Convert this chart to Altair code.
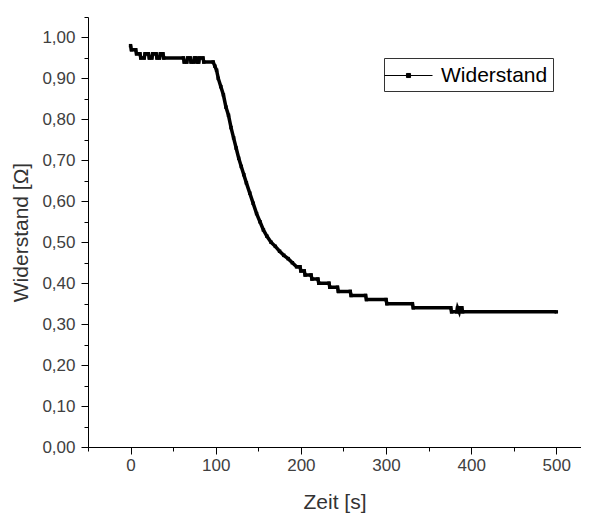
import altair as alt
import pandas as pd

# ---- data ----
zeit_s = [0, 1, 6, 7, 11, 12, 16, 17, 21, 22, 25, 26, 30, 31, 34, 35, 38, 39, 62,
          63, 66, 67, 70, 71, 74, 75, 77, 78, 80, 81, 85, 86, 97,
          99, 101, 103, 106, 109, 112, 115, 118, 121, 124, 127, 130, 133,
          136, 140, 144, 148, 152, 156, 160, 165, 170, 175, 180, 185, 190, 195, 199,
          200, 204, 205, 212, 213, 220, 221, 233, 234, 243, 244, 258, 259, 276, 277,
          300, 301, 331, 332, 376, 377, 383, 384, 386, 387, 389, 390, 500]
widerstand = [0.98, 0.97, 0.97, 0.96, 0.96, 0.95, 0.95, 0.96, 0.96, 0.95, 0.95, 0.96,
              0.96, 0.95, 0.95, 0.96, 0.96, 0.95, 0.95,
              0.94, 0.94, 0.95, 0.95, 0.94, 0.94, 0.95, 0.95, 0.94, 0.94, 0.95, 0.95,
              0.94, 0.94,
              0.93, 0.92, 0.90, 0.88, 0.86, 0.83,
              0.81, 0.78, 0.755, 0.73, 0.705, 0.685, 0.665, 0.645, 0.62, 0.595, 0.57,
              0.55, 0.53, 0.515, 0.50, 0.49, 0.478, 0.468, 0.46, 0.45, 0.44, 0.44,
              0.43, 0.43, 0.42, 0.42, 0.41, 0.41, 0.40, 0.40, 0.39, 0.39, 0.38, 0.38,
              0.37, 0.37, 0.36, 0.36, 0.35, 0.35, 0.34, 0.34, 0.33, 0.33, 0.34, 0.33,
              0.34, 0.34, 0.33, 0.33]
serie = ["Widerstand"] * len(zeit_s)

x_tick_values = [-50, 0, 50, 100, 150, 200, 250, 300, 350, 400, 450, 500]
y_tick_values = [0.0, 0.05, 0.1, 0.15, 0.2, 0.25, 0.3, 0.35, 0.4, 0.45, 0.5, 0.55,
                 0.6, 0.65, 0.7, 0.75, 0.8, 0.85, 0.9, 0.95, 1.0, 1.05]

df = pd.DataFrame({"Zeit": zeit_s, "Widerstand": widerstand, "Serie": serie})

FONT = "Liberation Sans"
x_major = "abs(datum.value % 100) < 0.001"
y_major = "abs(datum.value * 10 - round(datum.value * 10)) < 0.001"

x_axis = alt.Axis(
    values=x_tick_values,
    title="Zeit [s]",
    grid=False,
    labelExpr=f"{x_major} ? datum.label : ''",
    tickSize={"condition": {"test": x_major, "value": 7}, "value": 4},
    labelOverlap=False,
    labelPadding=3,
    titlePadding=18,
)
y_axis = alt.Axis(
    values=y_tick_values,
    title="Widerstand [Ω]",
    grid=False,
    labelExpr=f"{y_major} ? replace(format(datum.value, '.2f'), '.', ',') : ''",
    tickSize={"condition": {"test": y_major, "value": 7}, "value": 4},
    labelOverlap=False,
    labelPadding=6,
    titlePadding=10,
)

legend = alt.Legend(
    title=None,
    orient="none",
    legendX=296,
    legendY=41,
    symbolType="M-2,0H2M-0.17,-0.17H0.17V0.17H-0.17Z",
    symbolSize=576,
    symbolOffset=7,
    symbolStrokeWidth=1,
    symbolFillColor="black",
    symbolStrokeColor="black",
    labelFont=FONT,
    labelFontSize=21,
    labelColor="black",
    labelOffset=20,
    strokeColor="#333333",
    fillColor="white",
    padding=5,
)

chart = (
    alt.Chart(df)
    .mark_line(
        strokeWidth=3.5,
        color="black",
        point=alt.OverlayMarkDef(shape="square", size=12, filled=True, color="black"),
    )
    .encode(
        x=alt.X("Zeit:Q", scale=alt.Scale(domain=[-50, 529], nice=False, zero=False), axis=x_axis),
        y=alt.Y("Widerstand:Q", scale=alt.Scale(domain=[0, 1.05], nice=False), axis=y_axis),
        color=alt.Color("Serie:N", scale=alt.Scale(range=["black"]), legend=legend),
    )
    .properties(
        width=493,
        height=430,
        autosize=alt.AutoSizeParams(type="none"),
        padding={"left": 80, "top": 9, "right": 0, "bottom": 66},
    )
    .configure_view(strokeWidth=0)
    .configure_axis(
        domainColor="black",
        domainWidth=1,
        tickColor="black",
        tickWidth=1,
        labelFont=FONT,
        labelFontSize=17,
        labelColor="#404040",
        titleFont=FONT,
        titleFontSize=21,
        titleFontWeight="normal",
        titleColor="#333333",
    )
)

chart.save("out.html", embed_options={"renderer": "svg", "actions": False})
